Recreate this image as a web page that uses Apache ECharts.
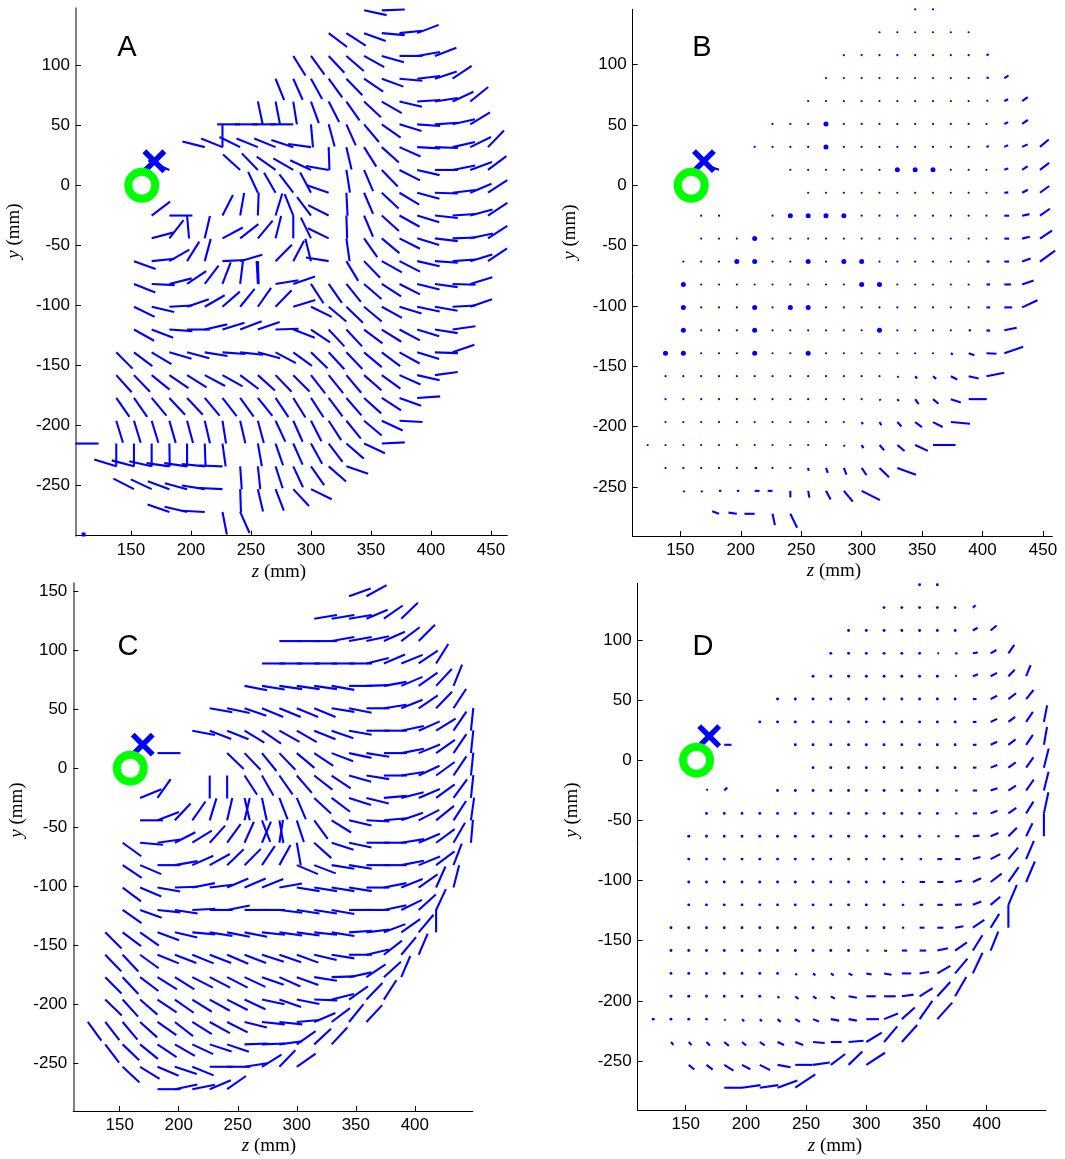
<!DOCTYPE html>
<html><head><meta charset="utf-8">
<script src="https://cdn.jsdelivr.net/npm/echarts@6/dist/echarts.min.js"></script>
<style>html,body{margin:0;padding:0;background:#fff}#c{width:1065px;height:1159px}</style>
</head><body><div id="c"></div>
<script>
// grid of sample positions (mm)
const zCols = [123,137.75,152.5,167.25,182,196.75,211.5,226.25,241,255.75,270.5,285.25,300,314.75,329.5,344.25,359,373.75,388.5,403.25,418,432.75,447.5];
const yRows = [145.8,126.8,107.8,88.8,69.8,50.8,31.8,12.8,-6.2,-25.2,-44.2,-63.2,-82.2,-101.2,-120.2,-139.2,-158.2,-177.2,-196.2,-215.2,-234.2,-253.2,-272.2];

// Panel A: [row, firstCol, angles(deg) per column]
const rowsA = [
 [0,15,[-12,2]],
 [1,13,[-37,-33,-20,-5,6,21]],
 [2,11,[-58,-54,-47,-41,-29,-16,0,10,21]],
 [3,10,[-68,-66,-61,-54,-46,-34,-20,-5,7,18,34]],
 [4,9,[-78,-79,-81,-70,-63,-55,-43,-30,-13,4,9,25,39]],
 [5,7,[-90,180,180,180,180,-85,-75,-66,-50,-35,-17,-4,4,13,31]],
 [6,6,[166,158,154,158,158,162,172,-88,-77,-58,-42,-24,-3,-2,13,26,46]],
 [7,4,[156,null,null,null,138,134,145,150,155,170,-81,-67,-46,-27,-13,0,11,20,37]],
 [8,9,[115,120,127,118,161,-87,-67,-43,-31,-15,-2,7,23,33]],
 [9,3,[37,0,-85,null,63,80,88,73,112,127,153,-88,-67,-42,-29,-17,-6,4,15,33]],
 [10,3,[15,52,null,77,28,38,50,76,90,116,154,-82,-55,-40,-27,-17,-7,2,12,33]],
 [11,2,[-20,6,30,58,75,3,16,-88,45,62,104,171,-59,-46,-29,-27,-13,-4,4,17,34]],
 [12,2,[-22,-3,14,34,53,69,83,93,9,19,-57,-55,-51,-41,-33,-27,-14,-8,-2,17]],
 [13,2,[-26,-13,3,19,30,41,51,55,46,17,-26,-40,-44,-40,-29,-17,-12,-10,3,19]],
 [14,2,[-29,-21,-4,0,13,17,21,19,2,-21,-34,-47,-47,-37,-32,-28,-17,-9,8]],
 [15,1,[-45,-37,-31,-16,-15,-9,-4,-6,-15,-28,-36,-44,-47,-46,-40,-37,-29,-17,-2,19]],
 [16,1,[-48,-46,-39,-34,-32,-28,-29,-37,-42,-46,-45,-52,-51,-50,-41,-36,-24,-13,8]],
 [17,1,[-55,-55,-50,-47,-47,-50,-52,-54,-51,-56,-58,-57,-53,-49,-42,-33,-20,4]],
 [18,1,[-73,-73,-73,-74,-75,-77,-81,-77,-75,-65,-66,-63,-57,-51,-40,-25,-3]],
 [19,0,[180,-90,-90,-90,-89,-90,-88,-82,null,-80,-71,-66,-61,-53,-41,-25,3]],
 [20,1,[163,165,167,172,172,174,178,-86,-84,-72,-65,-55,-41,-19]],
 [21,2,[153,155,160,165,171,177,-88,-77,-69,-47,-26]],
 [22,4,[161,167,177,-79,-66]]
];

// Panel C: [row, firstCol, angles(deg)]
const rowsC = [
 [0,15,[20,29]],
 [1,13,[9,9,9,23,35,44]],
 [2,11,[0,0,0,10,10,12,24,37,45]],
 [3,10,[0,0,0,0,0,0,14,23,22,34,58]],
 [4,9,[-11,-9,-8,-8,-8,-10,0,2,10,23,35,47,68]],
 [5,7,[-10,-12,-19,-22,-22,-22,-22,-9,-11,0,9,22,34,46,57]],
 [6,6,[-11,-21,-22,-31,-34,-29,-30,-22,-19,-10,0,0,12,24,32,56,84]],
 [7,4,[0,null,null,null,-44,-46,-51,-46,-40,-34,-21,-12,-9,0,11,22,35,56,84]],
 [8,7,[-90,-90,-57,-60,-55,-49,-38,-34,-16,-9,0,9,25,36,56,84]],
 [9,3,[22,55,null,null,null,null,-77,-78,-69,-67,-43,-37,-18,-14,5,14,23,36,54,84]],
 [10,3,[0,21,47,55,73,77,77,-69,-80,-72,-54,-32,-13,-3,5,19,27,39,57,82]],
 [11,2,[-36,-5,8,27,32,48,54,66,67,81,-80,-42,-18,-12,0,0,9,23,36,60,85]],
 [12,2,[-34,-23,0,10,24,29,44,45,56,61,-23,-21,-9,-9,0,0,11,22,37,69]],
 [13,2,[-37,-23,-10,2,11,7,23,23,22,10,-9,-9,-9,-9,0,11,22,35,66,76]],
 [14,2,[-35,-20,-6,-9,3,0,11,0,0,-7,-9,-9,-10,0,0,12,26,42,65]],
 [15,1,[-45,-37,-35,-20,-13,-5,-9,-11,-11,-6,-8,-8,-6,-9,4,7,21,35,50,90]],
 [16,1,[-46,-47,-36,-22,-21,-22,-21,-23,-21,-18,-19,-20,-13,-9,0,13,38,50,67]],
 [17,1,[-45,-47,-37,-32,-32,-27,-27,-27,-25,-19,-24,-20,-9,2,12,34,42,67]],
 [18,1,[-44,-48,-41,-34,-35,-32,-29,-27,-25,-12,-19,-11,-2,14,35,46,57]],
 [19,0,[-54,-52,-50,-42,-35,-38,-32,-29,-27,-14,-6,-6,5,23,37,51,47]],
 [20,1,[-53,-44,-39,-34,-30,-25,-18,-19,2,2,8,35,43,47]],
 [21,2,[-43,-32,-23,-18,-22,0,0,9,32,46,35]],
 [22,4,[0,12,11,23,35]]
];

// Panel B: [row, column ranges, [col, length(mm), angle(deg)] for non-dot cells]
const rowsB = [
 [0,[[15,16]],[]],
 [1,[[13,18]],[]],
 [2,[[11,19]],[[19,2,20]]],
 [3,[[10,20]],[[19,2,15],[20,4,30]]],
 [4,[[9,21]],[[19,1.5,20],[20,3.5,25],[21,5.7,35]]],
 [5,[[7,21]],[[20,3.5,25],[21,5.8,35]]],
 [6,[[6,22]],[[19,2,20],[20,3.5,25],[21,5,25],[22,9.5,40]]],
 [7,[[4,4],[8,22]],[[4,8,160],[20,3.5,20],[21,5.5,33],[22,9.5,37]]],
 [8,[[9,22]],[[20,3.3,5],[21,5.3,28],[22,9.5,36]]],
 [9,[[3,4],[7,22]],[[20,4,0],[21,6.2,12],[22,10,35]]],
 [10,[[3,22]],[[20,4,0],[21,6.5,14],[22,12,34]]],
 [11,[[2,22]],[[19,2.5,0],[20,4,0],[21,7.5,20],[22,15.5,36]]],
 [12,[[2,21]],[[19,3,0],[20,5.5,0],[21,10,19]]],
 [13,[[2,21]],[[19,3,0],[20,6.5,0],[21,14,25]]],
 [14,[[2,20]],[[18,2,0],[19,3,-5],[20,10.5,12]]],
 [15,[[1,20]],[[17,2,-30],[18,5,-18],[19,8.3,-3],[20,16.5,19]]],
 [16,[[1,19]],[[14,1.5,-45],[15,2.5,-50],[16,3.5,-40],[17,6,-27],[18,8.5,-13],[19,15,11]]],
 [17,[[1,18]],[[13,1.5,-50],[14,2,-50],[15,5,-55],[16,6,-40],[17,8.7,-18],[18,15,0]]],
 [18,[[1,17]],[[12,2,-60],[13,3,-60],[14,5,-47],[15,7,-37],[16,9,-27],[17,16,-5]]],
 [19,[[0,16]],[[11,1.5,-60],[12,3,-60],[13,5.8,-48],[14,7.8,-40],[15,11.6,-25],[16,18.7,0]]],
 [20,[[1,14]],[[6,2,0],[9,2.5,-80],[10,4.4,-70],[11,5.9,-68],[12,7.3,-56],[13,11,-44],[14,16.4,-20]]],
 [21,[[2,12]],[[2,1.5,-40],[3,1.5,-40],[4,2,0],[5,2,0],[6,4,0],[7,4,180],[8,5.5,-90],[9,5.7,-80],[10,8.2,-62],[11,11.5,-50],[12,17,-27]]],
 [22,[[4,8]],[[4,6,160],[5,7,172],[6,8.5,180],[7,9.6,-78],[8,12.8,-64]]]
];
const bigDotsB = [[5,10],[6,10],[7,14],[7,15],[7,16],[9,8],[9,9],[9,10],[9,11],[10,6],[11,5],[11,6],[11,9],[11,11],[11,12],[12,2],[12,12],[12,13],[13,2],[13,6],[13,8],[13,9],[14,2],[14,6],[14,13],[15,1],[15,2],[15,6],[15,9]];

// Panel D: same layout as B
const rowsD = [
 [0,[[15,16]],[]],
 [1,[[13,18]],[[18,3,40]]],
 [2,[[11,19]],[[18,4.5,30],[19,6.5,40]]],
 [3,[[10,20]],[[16,1.5,0],[17,2,0],[18,4.2,10],[19,5.5,30],[20,8.5,55]]],
 [4,[[9,21]],[[17,1.5,20],[18,4.5,22],[19,6,27],[20,7.5,45],[21,10,68]]],
 [5,[[7,21]],[[18,3,0],[19,6,27],[20,8,37],[21,9.7,51]]],
 [6,[[6,22]],[[18,3,0],[19,6,25],[20,7,37],[21,10,56],[22,14,79]]],
 [7,[[4,4],[8,22]],[[4,6,0],[18,3,0],[19,6,25],[20,7.5,37],[21,10,56],[22,15,80]]],
 [8,[[9,22]],[[18,3,0],[19,6,22],[20,7.5,35],[21,10.5,55],[22,16.5,76]]],
 [9,[[3,4],[7,22]],[[3,1.5,50],[4,3.5,45],[17,2,0],[18,3.5,0],[19,6,19],[20,7.5,33],[21,11,55],[22,16,76]]],
 [10,[[3,22]],[[17,2,0],[18,3.5,0],[19,6,22],[20,8,35],[21,11.5,58],[22,18,78]]],
 [11,[[2,22]],[[16,2,0],[17,3.5,0],[18,5.5,5],[19,7,22],[20,10,45],[21,12,64],[22,19,90]]],
 [12,[[2,21]],[[15,2,0],[16,4,0],[17,4.5,0],[18,6.5,15],[19,9,27],[20,12.5,50],[21,16.5,67]]],
 [13,[[2,21]],[[14,2,0],[15,4.5,0],[16,5,0],[17,5.7,10],[18,7.5,24],[19,11.5,37],[20,15,55],[21,18.5,67]]],
 [14,[[2,20]],[[14,2,0],[15,3,0],[16,4.5,0],[17,5.7,3],[18,7.5,22],[19,10.5,40],[20,18,67]]],
 [15,[[1,20]],[[14,2,0],[15,4,0],[16,5,0],[17,7,10],[18,11.5,34],[19,13.5,58],[20,19,90]]],
 [16,[[1,19]],[[12,2,0],[13,2.5,-10],[14,4.5,0],[15,5.5,0],[16,9,12],[17,12,35],[18,15,58],[19,17,68]]],
 [17,[[1,18]],[[8,2,-45],[9,2.5,-40],[10,3,-35],[11,3.5,-25],[12,4.5,-12],[13,6.3,-10],[14,7.8,0],[15,8,8],[16,12.5,30],[17,16,50],[18,19,65]]],
 [18,[[1,17]],[[7,2,-45],[8,3.5,-40],[9,3.5,-35],[10,4,-30],[11,7,-10],[12,7.8,0],[13,9.7,0],[14,9.8,8],[15,12.8,32],[16,16,48],[17,18.5,60]]],
 [19,[[0,16]],[[4,1.5,-45],[5,2.5,-45],[6,2.5,-45],[7,3.5,-40],[8,4.5,-30],[9,5.3,-22],[10,7,-10],[11,7,-10],[12,10.5,0],[13,12.5,22],[14,14.5,42],[15,18.5,55],[16,18.5,48]]],
 [20,[[1,14]],[[1,3,-50],[2,3.5,-48],[3,4,-45],[4,5,-40],[5,4.5,-40],[6,5,-35],[7,6,-25],[8,7,-20],[9,9.7,-5],[10,9,0],[11,12.5,5],[12,15,31],[13,17,50],[14,19,48]]],
 [21,[[2,12]],[[2,6,-40],[3,6.5,-38],[4,9,-32],[5,7.8,-28],[6,9.6,-27],[7,11,-10],[8,14.5,0],[9,14,8],[10,15,37],[11,16,44],[12,18.5,33]]],
 [22,[[4,8]],[[4,15,0],[5,15.5,8],[6,15.5,8],[7,17.5,20],[8,20,34]]]
];

// markers (mm)
const sourcePt = [159, 0];      // green circle
const crossPt = [169.5, 20];    // blue cross
const cornerPt = [110.5, -291]; // small dot

// ticks
const xTicksAB = [150,200,250,300,350,400,450];
const xTicksCD = [150,200,250,300,350,400];
const yTicksABD = [-250,-200,-150,-100,-50,0,50,100];
const yTicksC = [-250,-200,-150,-100,-50,0,50,100,150];

const LEN_A = 19.2, LEN_C = 19.5;
const BLUE = '#0000ff';
const SANS = '"Liberation Sans", Arial, Helvetica, sans-serif';
const SERIF = '"Liberation Serif", "Times New Roman", serif';

function buildFixed(rows, len) {
  const out = [];
  rows.forEach(([r, c0, angs]) => angs.forEach((a, i) => {
    if (a !== null) out.push([zCols[c0 + i], yRows[r], a, len]);
  }));
  return out;
}
function buildVar(rows) {
  const out = [];
  rows.forEach(([r, ranges, segs]) => {
    const m = {};
    segs.forEach(([c, l, a]) => { m[c] = [l, a]; });
    ranges.forEach(([a, b]) => {
      for (let c = a; c <= b; c++) {
        const s = m[c] || [0, 0];
        out.push([zCols[c], yRows[r], s[1], s[0]]);
      }
    });
  });
  return out;
}

function makeSegItem(dotR) {
  return function (params, api) {
    const z = api.value(0), y = api.value(1), a = api.value(2) * Math.PI / 180, L = api.value(3);
    const p0 = api.coord([z, y]);
    if (L <= 0) return {type: 'circle', shape: {cx: p0[0], cy: p0[1], r: dotR}, style: {fill: BLUE}};
    const p1 = api.coord([z + L * Math.cos(a), y + L * Math.sin(a)]);
    return {type: 'line', shape: {x1: p0[0], y1: p0[1], x2: p1[0], y2: p1[1]}, style: {stroke: BLUE, lineWidth: 2.1}};
  };
}
function crossItem(params, api) {
  const p = api.coord([api.value(0), api.value(1)]);
  const d = 10;
  return {type: 'group', children: [
    {type: 'line', shape: {x1: p[0] - d, y1: p[1] - d, x2: p[0] + d, y2: p[1] + d}, style: {stroke: BLUE, lineWidth: 5.5}},
    {type: 'line', shape: {x1: p[0] - d, y1: p[1] + d, x2: p[0] + d, y2: p[1] - d}, style: {stroke: BLUE, lineWidth: 5.5}}
  ]};
}

const panels = [
  {grid: {left: 76, top: 8.3, width: 431.3, height: 527.4}, x: [104.2, 463.6], y: [-292, 147.5], xt: xTicksAB, yt: yTicksABD, ycol: '#808080', yw: 2, dot: 1.1},
  {grid: {left: 632.7, top: 9.3, width: 419.6, height: 526.7}, x: [110.6, 457.7], y: [-290.6, 145.8], xt: xTicksAB, yt: yTicksABD, ycol: '#000', yw: 1, dot: 1.1},
  {grid: {left: 73.3, top: 583.3, width: 399.4, height: 527.7}, x: [110.7, 449], y: [-290.7, 156.8], xt: xTicksCD, yt: yTicksC, ycol: '#808080', yw: 2, dot: 1.1},
  {grid: {left: 637.7, top: 583.3, width: 408, height: 526.7}, x: [110.1, 449], y: [-290.7, 147], xt: xTicksCD, yt: yTicksABD, ycol: '#000', yw: 1, dot: 1.45}
];

const labelStyle = {fontFamily: SANS, fontSize: 17, color: '#000'};
const grids = [], xAxes = [], yAxes = [], series = [];
panels.forEach((p, i) => {
  grids.push(Object.assign({containLabel: false}, p.grid));
  xAxes.push({type: 'value', gridIndex: i, min: p.x[0], max: p.x[1], position: 'bottom',
    axisLine: {onZero: false, lineStyle: {color: '#000', width: 1.2}},
    axisTick: {inside: true, length: 5, customValues: p.xt, lineStyle: {color: '#000'}},
    axisLabel: Object.assign({customValues: p.xt, margin: 6}, labelStyle),
    splitLine: {show: false}});
  yAxes.push({type: 'value', gridIndex: i, min: p.y[0], max: p.y[1], position: 'left',
    axisLine: {onZero: false, lineStyle: {color: p.ycol, width: p.yw}},
    axisTick: {inside: true, length: 5, customValues: p.yt, lineStyle: {color: '#000'}},
    axisLabel: Object.assign({customValues: p.yt, margin: 6}, labelStyle),
    splitLine: {show: false}});
});

const dataSets = [buildFixed(rowsA, LEN_A), buildVar(rowsB), buildFixed(rowsC, LEN_C), buildVar(rowsD)];
dataSets.forEach((d, i) => {
  series.push({type: 'custom', xAxisIndex: i, yAxisIndex: i, renderItem: makeSegItem(panels[i].dot), data: d, silent: true});
});
series.push({type: 'scatter', xAxisIndex: 1, yAxisIndex: 1, symbol: 'circle', symbolSize: 5,
  itemStyle: {color: BLUE, opacity: 1}, data: bigDotsB.map(([r, c]) => [zCols[c], yRows[r]]), silent: true});
for (let i = 0; i < 4; i++) {
  series.push({type: 'scatter', xAxisIndex: i, yAxisIndex: i, symbol: 'rect', symbolSize: 4,
    itemStyle: {color: BLUE, opacity: 1}, data: [cornerPt], silent: true});
  series.push({type: 'custom', xAxisIndex: i, yAxisIndex: i, renderItem: crossItem, data: [crossPt], silent: true, z: 5});
  series.push({type: 'scatter', xAxisIndex: i, yAxisIndex: i, symbol: 'circle', symbolSize: 27,
    itemStyle: {color: 'rgba(0,0,0,0)', borderColor: '#00ff00', borderWidth: 8, opacity: 1}, data: [sourcePt], silent: true, z: 6});
}

const letters = [['A', 127, 48], ['B', 702, 48], ['C', 128, 647], ['D', 703, 647]];
const xTitles = [[279, 572], [834, 571], [269, 1146], [835, 1146]];
const yTitles = [[14, 231], [570, 232], [17, 810], [572, 810]];
const graphics = [];
letters.forEach(([t, x, y]) => graphics.push({type: 'text', x, y,
  style: {text: t, fontFamily: SANS, fontSize: 29, fill: '#000', align: 'center', verticalAlign: 'middle'}}));
xTitles.forEach(([x, y]) => graphics.push({type: 'text', x, y,
  style: {text: '{i|z} (mm)', fontFamily: SERIF, fontSize: 19, fill: '#000', align: 'center', verticalAlign: 'middle',
    rich: {i: {fontFamily: SERIF, fontSize: 19, fontStyle: 'italic'}}}}));
yTitles.forEach(([x, y]) => graphics.push({type: 'text', x, y, rotation: Math.PI / 2,
  style: {text: '{i|y} (mm)', fontFamily: SERIF, fontSize: 19, fill: '#000', align: 'center', verticalAlign: 'middle',
    rich: {i: {fontFamily: SERIF, fontSize: 19, fontStyle: 'italic'}}}}));

const chart = echarts.init(document.getElementById('c'), null, {renderer: 'canvas'});
chart.setOption({animation: false, backgroundColor: '#fff', grid: grids, xAxis: xAxes, yAxis: yAxes, series, graphic: graphics});
</script></body></html>
